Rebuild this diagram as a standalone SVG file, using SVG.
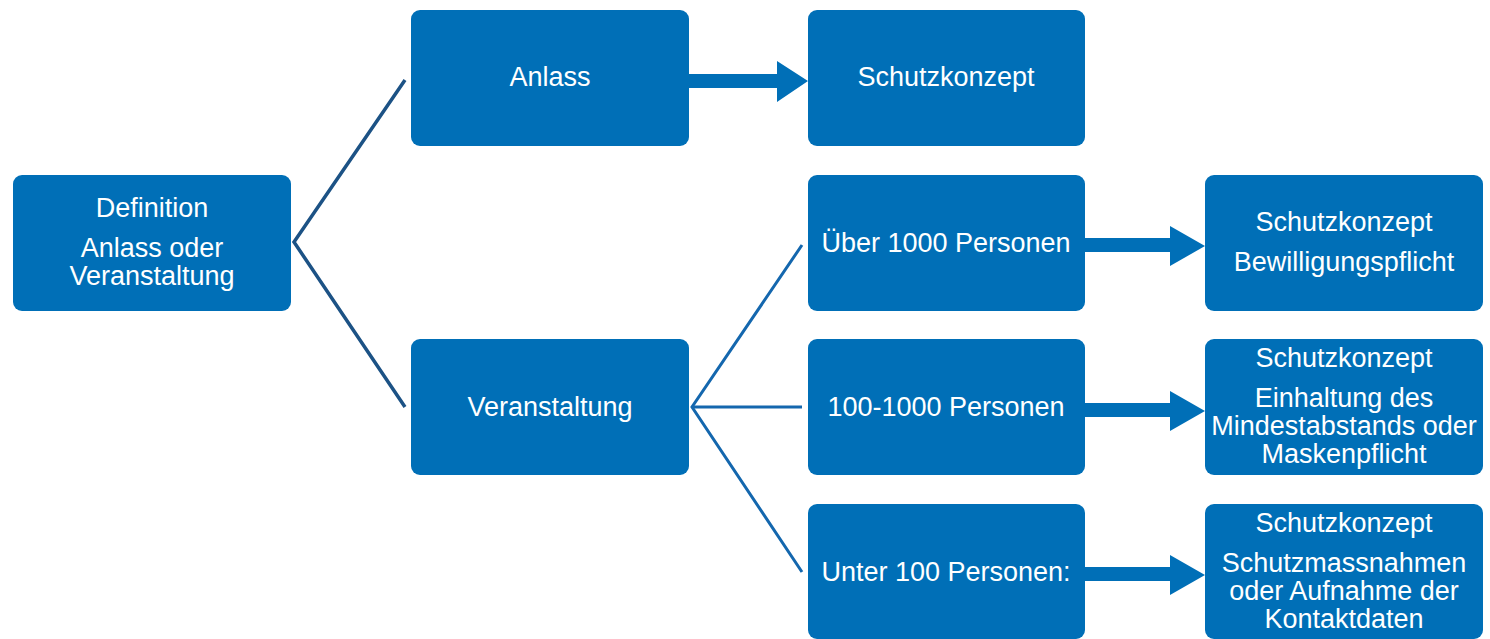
<svg xmlns="http://www.w3.org/2000/svg" width="1490" height="639" viewBox="0 0 1490 639">
<style>
.box{fill:#006fb7;}
.t{fill:#fff;font-family:"Liberation Sans",Arial,sans-serif;font-size:27px;text-anchor:middle;}
.l1{stroke:#1c5285;stroke-width:3.5;fill:none;}
.l2{stroke:#1467ae;stroke-width:3;fill:none;}
.arr{fill:#006fb7;}
</style>
<rect width="1490" height="639" fill="#fff"/>
<g id="connectors">
<polyline class="l1" points="405,80 294,242 405,407"/>
<polyline class="l2" points="802,245 692,407 802,572"/>
<line class="l2" x1="692" y1="407" x2="802" y2="407"/>
<polygon class="arr" points="689,74 777,74 777,61 808,81 777,102 777,88 689,88"/>
<polygon class="arr" points="1085,238 1170,238 1170,226 1205,246 1170,266 1170,252 1085,252"/>
<polygon class="arr" points="1085,403 1170,403 1170,391 1205,411 1170,431 1170,417 1085,417"/>
<polygon class="arr" points="1085,567 1170,567 1170,555 1205,575 1170,595 1170,581 1085,581"/>
</g>
<g id="definition"><rect class="box" x="13" y="175" width="278" height="136" rx="9"/>
<text class="t" x="152" y="217">Definition</text><text class="t" x="152" y="257">Anlass oder</text><text class="t" x="152" y="285">Veranstaltung</text></g>
<g id="anlass"><rect class="box" x="411" y="10" width="278" height="136" rx="9"/><text class="t" x="550" y="86">Anlass</text></g>
<g id="schutzkonzept1"><rect class="box" x="808" y="10" width="277" height="136" rx="9"/><text class="t" x="946" y="86">Schutzkonzept</text></g>
<g id="veranstaltung"><rect class="box" x="411" y="339" width="278" height="136" rx="9"/><text class="t" x="550" y="416">Veranstaltung</text></g>
<g id="ueber1000"><rect class="box" x="808" y="175" width="277" height="136" rx="9"/><text class="t" x="946" y="252">Über 1000 Personen</text></g>
<g id="p100-1000"><rect class="box" x="808" y="339" width="277" height="136" rx="9"/><text class="t" x="946" y="416">100-1000 Personen</text></g>
<g id="unter100"><rect class="box" x="808" y="504" width="277" height="135" rx="9"/><text class="t" x="946" y="581">Unter 100 Personen:</text></g>
<g id="bewilligung"><rect class="box" x="1205" y="175" width="278" height="136" rx="9"/>
<text class="t" x="1344" y="231">Schutzkonzept</text><text class="t" x="1344" y="271">Bewilligungspflicht</text></g>
<g id="mindestabstand"><rect class="box" x="1205" y="339" width="278" height="136" rx="9"/>
<text class="t" x="1344" y="367">Schutzkonzept</text><text class="t" x="1344" y="407">Einhaltung des</text><text class="t" x="1344" y="435">Mindestabstands oder</text><text class="t" x="1344" y="463">Maskenpflicht</text></g>
<g id="kontaktdaten"><rect class="box" x="1205" y="504" width="278" height="135" rx="9"/>
<text class="t" x="1344" y="532">Schutzkonzept</text><text class="t" x="1344" y="572">Schutzmassnahmen</text><text class="t" x="1344" y="600">oder Aufnahme der</text><text class="t" x="1344" y="628">Kontaktdaten</text></g>
</svg>
